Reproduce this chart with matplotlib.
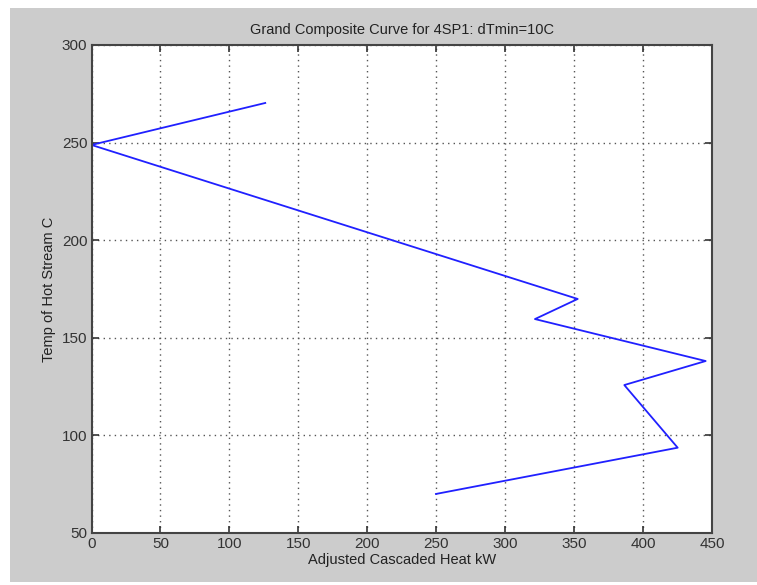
import numpy as np
import matplotlib.pyplot as plt
from matplotlib.patches import Rectangle

# --- data ---
heat_kw = [126, 0, 352.6, 321.6, 445.4, 386.4, 425.1, 249.8]
temp_c = [270.3, 248.8, 169.9, 159.6, 138.1, 125.8, 93.7, 70.0]

xticks = [0, 50, 100, 150, 200, 250, 300, 350, 400, 450]
yticks = [50, 100, 150, 200, 250, 300]

plt.rcParams['font.family'] = ['Liberation Sans', 'DejaVu Sans']

fig = plt.figure(figsize=(7.57, 5.85), dpi=100, facecolor='white')
# gray MATLAB-style figure panel
fig.patches.append(Rectangle((10/757, 3/585), 1 - 10/757, 1 - 11/585,
                             transform=fig.transFigure, facecolor='#cccccc',
                             edgecolor='none', zorder=-10))

ax = fig.add_axes([91.5/757, 1 - 533/585, (712 - 91.5)/757, (533 - 45)/585])
ax.set_facecolor('white')
ax.plot(heat_kw, temp_c, color='#2020ff', linewidth=1.3)

ax.set_xlim(0, 450)
ax.set_ylim(50, 300)
ax.set_xticks(xticks)
ax.set_yticks(yticks)
ax.grid(True, linestyle=(0, (1, 3)), color='#555555', linewidth=1.0)
ax.tick_params(direction='in', top=True, right=True, length=5, width=1.2,
               labelsize=11, colors='#333333', pad=3)
for s in ax.spines.values():
    s.set_color('#444444')
    s.set_linewidth(1.5)

ax.set_xlabel('Adjusted Cascaded Heat kW', fontsize=10.5, color='#222222', labelpad=1)
ax.set_ylabel('Temp of Hot Stream C', fontsize=10.5, color='#222222', labelpad=4)
ax.set_title('Grand Composite Curve for 4SP1: dTmin=10C', fontsize=10.5,
             color='#222222', pad=8)

fig.savefig('out.png', dpi=100, facecolor=fig.get_facecolor())
